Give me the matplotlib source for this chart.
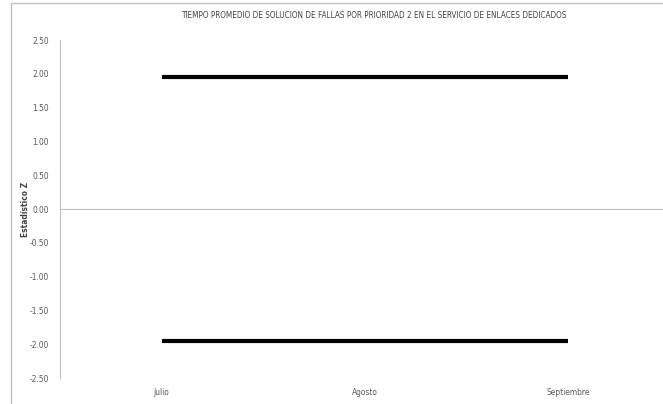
import matplotlib
matplotlib.use("Agg")
import matplotlib.pyplot as plt
import matplotlib.patches as patches

# data
meses = ["Julio", "Agosto", "Septiembre"]
limite_superior = [1.96, 1.96, 1.96]
limite_inferior = [-1.96, -1.96, -1.96]
yticks = [2.5, 2.0, 1.5, 1.0, 0.5, 0.0, -0.5, -1.0, -1.5, -2.0, -2.5]

titulo = "TIEMPO PROMEDIO DE SOLUCION DE FALLAS POR PRIORIDAD 2 EN EL SERVICIO DE ENLACES DEDICADOS"

plt.rcParams['font.family'] = ['DejaVu Sans']
plt.rcParams['font.stretch'] = 'condensed'

W, H = 663, 404
fig = plt.figure(figsize=(W / 100, H / 100), dpi=100)

# outer chart border (cropped on the right and bottom)
fig.patches.append(patches.Rectangle((11 / W, -0.05), 1.1, 1 - 3 / H + 0.05,
                                     transform=fig.transFigure, fill=False,
                                     edgecolor='#bfbfbf', lw=1))

ax = fig.add_axes([60 / W, 1 - 378 / H, (670 - 60) / W, (378 - 40) / H])
x = range(len(meses))
ax.plot(x, limite_superior, color='black', lw=3, solid_capstyle='butt')
ax.plot(x, limite_inferior, color='black', lw=3, solid_capstyle='butt')

ax.set_xlim(-0.5, len(meses) - 0.5)
ax.set_ylim(-2.5, 2.5)
ax.set_yticks(yticks)
ax.set_yticklabels([f"{v:.2f}" for v in yticks])
ax.set_xticks(list(x))
ax.set_xticklabels(meses)

for s in ['top', 'right', 'bottom']:
    ax.spines[s].set_visible(False)
ax.spines['left'].set_color('#bfbfbf')
ax.spines['left'].set_linewidth(0.8)
ax.axhline(0, color='#bfbfbf', lw=0.8, zorder=0)

ax.tick_params(axis='both', length=0, labelsize=6, labelcolor='#595959')
ax.tick_params(axis='y', pad=8)
ax.tick_params(axis='x', pad=7)

ax.set_ylabel("Estadístico Z", fontsize=6, fontweight='bold', color='#404040', labelpad=0)
fig.text(374 / W, 1 - 15 / H, titulo, ha='center', va='center', fontsize=5.9, color='#404040')

fig.savefig("out.png", dpi=100)
